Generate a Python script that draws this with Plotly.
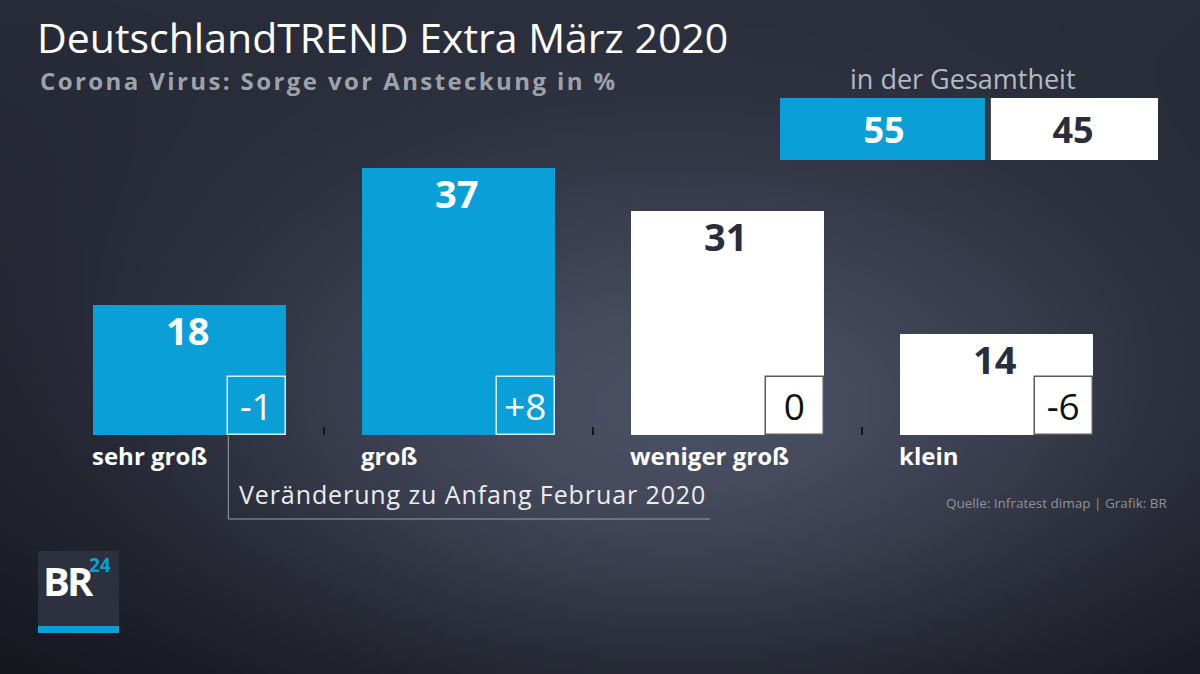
import base64, struct, zlib
import numpy as np
import plotly.graph_objects as go

# ---------------- data ----------------
categories = ["sehr groß", "groß", "weniger groß", "klein"]
values = [18, 37, 31, 14]
changes = ["-1", "+8", "0", "-6"]
total_labels = ["55", "45"]
total_values = [55, 45]

title = "DeutschlandTREND Extra März 2020"
subtitle = "Corona Virus: Sorge vor Ansteckung in %"
total_title = "in der Gesamtheit"
change_note = "Veränderung zu Anfang Februar 2020"
source = "Quelle: Infratest dimap | Grafik: BR"

# ---------------- style ----------------
W, H = 1200, 674
BLUE = "#0b9fd8"
WHITE = "#ffffff"
DARK = "#2a2d3b"
FONT = "Open Sans"
bar_colors = [BLUE, BLUE, WHITE, WHITE]
label_colors = [WHITE, WHITE, DARK, DARK]
box_text_colors = [WHITE, WHITE, "#111111", "#111111"]
box_line_colors = ["#d4ecf7", "#d4ecf7", "#5a5a5a", "#5a5a5a"]

BAR_W = 0.72
BOX_W = 0.2156
BOX_H = 8.0

def fx(px):
    return px / W

def fy(py):
    return 1 - py / H

# ---------------- background gradient image ----------------
gw, gh = 240, 135
xs = (np.arange(gw) + 0.5) / gw * W
ys = (np.arange(gh) + 0.5) / gh * H
X, Y = np.meshgrid(xs, ys)
top = np.array([40, 43, 56], float)
bot = np.array([18, 20, 27], float)
amp = np.array([48, 51, 61], float)
t = (Y / H)[..., None]
base = top * (1 - t) + bot * t
g = np.exp(-(((X - 680) / 360) ** 2 + ((Y - 430) / 190) ** 2) / 2)[..., None]
img = np.clip(base + amp * g, 0, 255).astype(np.uint8)

def make_png(arr):
    h, w, _ = arr.shape
    raw = b"".join(b"\x00" + arr[r].tobytes() for r in range(h))
    def chunk(tag, data):
        c = tag + data
        return struct.pack(">I", len(data)) + c + struct.pack(">I", zlib.crc32(c) & 0xFFFFFFFF)
    return (b"\x89PNG\r\n\x1a\n" + chunk(b"IHDR", struct.pack(">IIBBBBB", w, h, 8, 2, 0, 0, 0))
            + chunk(b"IDAT", zlib.compress(raw, 9)) + chunk(b"IEND", b""))

bg_uri = "data:image/png;base64," + base64.b64encode(make_png(img)).decode()

# ---------------- figure ----------------
fig = go.Figure()
xpos = list(range(len(categories)))

# main bars
fig.add_trace(go.Bar(
    x=xpos, y=values, width=BAR_W, marker=dict(color=bar_colors, line=dict(width=0)),
    hoverinfo="skip", showlegend=False, xaxis="x", yaxis="y"))

# change boxes (bottom right of each bar)
fig.add_trace(go.Bar(
    x=xpos, y=[BOX_H] * len(xpos), width=BOX_W, offset=BAR_W / 2 - BOX_W,
    marker=dict(color=bar_colors, line=dict(color=box_line_colors, width=1.5)),
    text=changes, textposition="inside", insidetextanchor="middle", constraintext="none",
    textfont=dict(family=FONT, size=37, color=box_text_colors),
    hoverinfo="skip", showlegend=False, xaxis="x", yaxis="y"))

# total boxes
fig.add_trace(go.Bar(
    x=[total_values[0]], y=[0], base=[0], orientation="h", width=1,
    marker=dict(color=BLUE, line=dict(width=0)), text=[total_labels[0]],
    textposition="inside", insidetextanchor="middle", constraintext="none",
    textfont=dict(family=FONT, size=36, color=WHITE, weight=700),
    hoverinfo="skip", showlegend=False, xaxis="x2", yaxis="y2"))
fig.add_trace(go.Bar(
    x=[total_values[1]], y=[0], base=[total_values[0]], orientation="h", width=1,
    marker=dict(color=WHITE, line=dict(width=0)), text=[total_labels[1]],
    textposition="inside", insidetextanchor="middle", constraintext="none",
    textfont=dict(family=FONT, size=36, color=DARK, weight=700),
    hoverinfo="skip", showlegend=False, xaxis="x2", yaxis="y2"))

annotations = []
# value labels
for i, v in enumerate(values):
    annotations.append(dict(x=i, y=v, xref="x", yref="y", text=str(v), showarrow=False,
                            xanchor="center", yanchor="top", yshift=3, xshift=-2,
                            font=dict(family=FONT, size=38, color=label_colors[i], weight=700)))
# category labels
for i, c in enumerate(categories):
    annotations.append(dict(x=i - BAR_W / 2, y=0, xref="x", yref="y", text=c, showarrow=False,
                            xanchor="left", yanchor="top", yshift=-2, xshift=-3,
                            font=dict(family=FONT, size=24, color=WHITE, weight=700)))

annotations += [
    dict(x=fx(35), y=fy(37), xref="paper", yref="paper", text=title, showarrow=False,
         xanchor="left", yanchor="middle", font=dict(family=FONT, size=41, color=WHITE)),
    dict(x=fx(38), y=fy(80), xref="paper", yref="paper",
         text='<span style="letter-spacing:2.4px">' + subtitle + "</span>", showarrow=False,
         xanchor="left", yanchor="middle", font=dict(family=FONT, size=24, color="#9ea2ab", weight=700)),
    dict(x=fx(963), y=fy(78), xref="paper", yref="paper", text=total_title, showarrow=False,
         xanchor="center", yanchor="middle", font=dict(family=FONT, size=27, color="#b5b9c2")),
    dict(x=fx(237), y=fy(494), xref="paper", yref="paper",
         text='<span style="letter-spacing:0.9px">' + change_note + "</span>", showarrow=False,
         xanchor="left", yanchor="middle", font=dict(family=FONT, size=25, color="#ececee")),
    dict(x=fx(1170), y=fy(503), xref="paper", yref="paper", text=source, showarrow=False,
         xanchor="right", yanchor="middle", font=dict(family=FONT, size=13.5, color="#8e929c")),
    dict(x=fx(41), y=fy(580), xref="paper", yref="paper",
         text='<span style="letter-spacing:-3px">BR</span>', showarrow=False,
         xanchor="left", yanchor="middle", font=dict(family=FONT, size=40, color=WHITE, weight=700)),
    dict(x=fx(87), y=fy(565), xref="paper", yref="paper", text="24", showarrow=False,
         xanchor="left", yanchor="middle", font=dict(family=FONT, size=19, color=BLUE, weight=700)),
]

# geometry of main axis for bracket
x_dom = [fx(55), fx(1131)]
box_left_px = 55 + (0 + BAR_W / 2 - BOX_W + 0.5) / 4 * (1131 - 55)

shapes = [
    dict(type="path", xref="paper", yref="paper",
         path=f"M {box_left_px / W} {fy(436)} L {box_left_px / W} {fy(519)} L {fx(710)} {fy(519)}",
         line=dict(color="#9b9ea6", width=1)),
    dict(type="rect", xref="paper", yref="paper", x0=fx(38), x1=fx(119), y0=fy(633), y1=fy(551),
         fillcolor="#2d303e", line=dict(width=0), layer="below"),
    dict(type="rect", xref="paper", yref="paper", x0=fx(38), x1=fx(119), y0=fy(633), y1=fy(626),
         fillcolor=BLUE, line=dict(width=0)),
    dict(type="line", xref="x2", yref="paper", x0=total_values[0], x1=total_values[0],
         y0=fy(160), y1=fy(98), line=dict(color="#323644", width=6)),
]

fig.update_layout(
    width=W, height=H, margin=dict(l=0, r=0, t=0, b=0),
    paper_bgcolor="#262935", plot_bgcolor="rgba(0,0,0,0)",
    barmode="overlay", bargap=0,
    xaxis=dict(domain=x_dom, range=[-0.5, 3.5], showgrid=False, zeroline=False, showline=False,
               tickvals=[0.5, 1.5, 2.5, 3.5], ticks="inside", ticklen=8, tickwidth=2,
               tickcolor="#14161c", showticklabels=False, fixedrange=True),
    yaxis=dict(domain=[fy(435), fy(146)], range=[0, 40], showgrid=False, zeroline=False,
               showline=False, showticklabels=False, ticks="", fixedrange=True),
    xaxis2=dict(domain=[fx(780), fx(1158)], range=[0, 100], anchor="y2", showgrid=False,
                zeroline=False, showline=False, showticklabels=False, ticks="", fixedrange=True),
    yaxis2=dict(domain=[fy(160), fy(98)], range=[-0.5, 0.5], anchor="x2", showgrid=False,
                zeroline=False, showline=False, showticklabels=False, ticks="", fixedrange=True),
    annotations=annotations, shapes=shapes,
    images=[dict(source=bg_uri, xref="paper", yref="paper", x=0, y=1, sizex=1, sizey=1,
                 xanchor="left", yanchor="top", sizing="stretch", layer="below")],
)

fig.write_html("out.html", config={"displayModeBar": False},
               post_script="document.body.style.margin='0';document.body.style.overflow='hidden';")
